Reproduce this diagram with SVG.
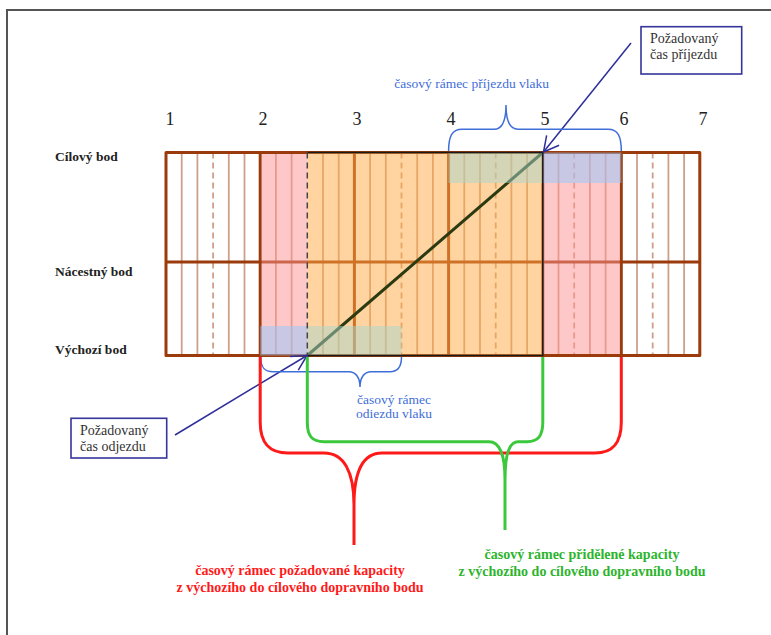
<svg xmlns="http://www.w3.org/2000/svg" width="771" height="635" viewBox="0 0 771 635">
<defs>
<style>
.num{font-family:"Liberation Serif",serif;font-size:18px;fill:#222;text-anchor:middle}
.row{font-family:"Liberation Serif",serif;font-size:13.5px;font-weight:bold;fill:#222}
.box{fill:#fff;stroke:#35359b;stroke-width:1.6}
.boxt{font-family:"Liberation Serif",serif;font-size:14px;fill:#333}
.bt{font-family:"Liberation Serif",serif;font-size:13.5px;fill:#3f6ed8;text-anchor:middle}
.brace{fill:none;stroke:#3f6ed8;stroke-width:1.5}
.cap{font-family:"Liberation Serif",serif;font-size:14px;font-weight:bold;text-anchor:middle}
.thin{stroke:#a5522a;stroke-opacity:0.55;stroke-width:1.8}
.dash{stroke:#a5522a;stroke-opacity:0.55;stroke-width:1.8;stroke-dasharray:6 4}
.thick{stroke:#9b3a0b;stroke-width:3}
.arrow{stroke:#2e2e9a;stroke-width:1.5;fill:none}
</style>
<marker id="arr" viewBox="0 0 18 18" refX="16" refY="9" markerWidth="18" markerHeight="18" orient="auto" markerUnits="userSpaceOnUse">
<path d="M1,1 L16,9 L1,17" fill="none" stroke="#2e2e9a" stroke-width="1.5"/>
</marker>
</defs>
<rect width="771" height="635" fill="#fff"/>
<path id="frame" d="M7,635 V10 H771" fill="none" stroke="#555" stroke-width="2"/>

<g id="grid">
<g class="thin">
<line x1="181.7" y1="152.5" x2="181.7" y2="355.5"/>
<line x1="197.4" y1="152.5" x2="197.4" y2="355.5"/>
<line x1="228.8" y1="152.5" x2="228.8" y2="355.5"/>
<line x1="244.5" y1="152.5" x2="244.5" y2="355.5"/>
<line x1="275.9" y1="152.5" x2="275.9" y2="355.5"/>
<line x1="291.6" y1="152.5" x2="291.6" y2="355.5"/>
<line x1="323" y1="152.5" x2="323" y2="355.5"/>
<line x1="338.7" y1="152.5" x2="338.7" y2="355.5"/>
<line x1="370.1" y1="152.5" x2="370.1" y2="355.5"/>
<line x1="385.8" y1="152.5" x2="385.8" y2="355.5"/>
<line x1="417.2" y1="152.5" x2="417.2" y2="355.5"/>
<line x1="432.9" y1="152.5" x2="432.9" y2="355.5"/>
<line x1="464.3" y1="152.5" x2="464.3" y2="355.5"/>
<line x1="480" y1="152.5" x2="480" y2="355.5"/>
<line x1="511.4" y1="152.5" x2="511.4" y2="355.5"/>
<line x1="527.1" y1="152.5" x2="527.1" y2="355.5"/>
<line x1="558.5" y1="152.5" x2="558.5" y2="355.5"/>
<line x1="589.9" y1="152.5" x2="589.9" y2="355.5"/>
<line x1="605.6" y1="152.5" x2="605.6" y2="355.5"/>
<line x1="637" y1="152.5" x2="637" y2="355.5"/>
<line x1="668.4" y1="152.5" x2="668.4" y2="355.5"/>
<line x1="684.1" y1="152.5" x2="684.1" y2="355.5"/>
</g>
<g class="dash">
<line x1="213.1" y1="152.5" x2="213.1" y2="355.5"/>
<line x1="401.5" y1="152.5" x2="401.5" y2="355.5"/>
<line x1="495.7" y1="152.5" x2="495.7" y2="355.5"/>
<line x1="574.2" y1="152.5" x2="574.2" y2="355.5"/>
<line x1="652.7" y1="152.5" x2="652.7" y2="355.5"/>
</g>
<g class="thick">
<line x1="260.2" y1="152.5" x2="260.2" y2="355.5"/>
<line x1="354.4" y1="152.5" x2="354.4" y2="355.5"/>
<line x1="448.6" y1="152.5" x2="448.6" y2="355.5"/>
<line x1="542.8" y1="152.5" x2="542.8" y2="355.5"/>
<line x1="621.3" y1="152.5" x2="621.3" y2="355.5"/>
<line x1="166" y1="262" x2="699.8" y2="262"/>
<rect x="166" y="152.5" width="533.8" height="203" fill="none" stroke-linejoin="round"/>
</g>
<rect x="261.7" y="154" width="45.6" height="200" fill="#ff9191" fill-opacity="0.5"/>
<rect x="307.3" y="152.5" width="235.5" height="203" fill="#ffa941" fill-opacity="0.5"/>
<rect x="542.8" y="154" width="77" height="200" fill="#ff9191" fill-opacity="0.5"/>
<line x1="307.3" y1="355.5" x2="542.8" y2="152.5" stroke="#2b3a10" stroke-width="3"/>
<rect x="260.2" y="326" width="47.1" height="29.5" fill="#91c8ff" fill-opacity="0.5"/>
<rect x="307.3" y="326" width="94.2" height="29.5" fill="#a7d6cc" fill-opacity="0.5"/>
<rect x="448.6" y="152.5" width="94.2" height="30.5" fill="#a7d6cc" fill-opacity="0.5"/>
<rect x="542.8" y="152.5" width="78.5" height="30.5" fill="#91c8ff" fill-opacity="0.5"/>
<path d="M307.3,152.5 H542.8 V355.5 H307.3" fill="none" stroke="#1a1a1a" stroke-width="1.5"/>
<line x1="307.3" y1="152.5" x2="307.3" y2="355.5" stroke="#444" stroke-width="1.5" stroke-dasharray="6 4"/>
</g>

<g id="column-numbers">
<text class="num" x="170" y="125">1</text>
<text class="num" x="263" y="125">2</text>
<text class="num" x="357" y="125">3</text>
<text class="num" x="451" y="125">4</text>
<text class="num" x="545" y="125">5</text>
<text class="num" x="624" y="125">6</text>
<text class="num" x="703" y="125">7</text>
</g>

<g id="row-labels">
<text class="row" x="55" y="161">Cílový bod</text>
<text class="row" x="55" y="276">Nácestný bod</text>
<text class="row" x="55" y="354">Výchozí bod</text>
</g>

<g id="box-arrival">
<rect class="box" x="641" y="26.7" width="100.7" height="47.3"/>
<text class="boxt" x="650" y="43">Požadovaný</text>
<text class="boxt" x="650" y="59">čas příjezdu</text>
</g>

<g id="box-departure">
<rect class="box" x="71" y="418.3" width="95.7" height="39.7"/>
<text class="boxt" x="80" y="435">Požadovaný</text>
<text class="boxt" x="80" y="451">čas odjezdu</text>
</g>

<g id="connectors">
<line class="arrow" x1="631" y1="43" x2="543.5" y2="152" marker-end="url(#arr)"/>
<line class="arrow" x1="175" y1="435" x2="307" y2="355.5" marker-end="url(#arr)"/>
<path class="brace" d="M448.6,151 C448.6,136 452,129.3 462,129.3 H494 C502,129.3 506,120 506,105 C506,120 510,129.3 518,129.3 H608 C618,129.3 621.3,136 621.3,151"/>
<path class="brace" d="M260.7,357 C260.7,367 264,371.7 273,371.7 H349 C356,371.7 360,378 360,387 C360,378 364,371.7 371,371.7 H390 C398,371.7 401.5,367 401.5,357"/>
<path d="M260.2,357 V422 C260.2,444 270,453 288,453 H324 C344,453 354,472 354,505 V545 M354,505 C354,472 362,453 382,453 H595 C612,453 621.3,444 621.3,422 V357" fill="none" stroke="#ff1a1a" stroke-width="3"/>
<path d="M307.3,357 V422 C307.3,436 312,441.7 324,441.7 H489 C500,441.7 505,455 505,480 V530 M505,480 C505,455 509,441.7 518,441.7 H527 C538,441.7 542.8,436 542.8,422 V357" fill="none" stroke="#3cc83c" stroke-width="3"/>
</g>

<g id="captions">
<text class="bt" x="471.7" y="88">časový rámec příjezdu vlaku</text>
<text class="bt" x="394" y="404">časový rámec</text>
<text class="bt" x="394" y="418">odiezdu vlaku</text>
<text class="cap" x="582" y="559" fill="#2db42d">časový rámec přidělené kapacity</text>
<text class="cap" x="582" y="576" fill="#2db42d">z výchozího do cílového dopravního bodu</text>
<text class="cap" x="300" y="575" fill="#ff1a1a">časový rámec požadované kapacity</text>
<text class="cap" x="300" y="592" fill="#ff1a1a">z výchozího do cílového dopravního bodu</text>
</g>
</svg>
